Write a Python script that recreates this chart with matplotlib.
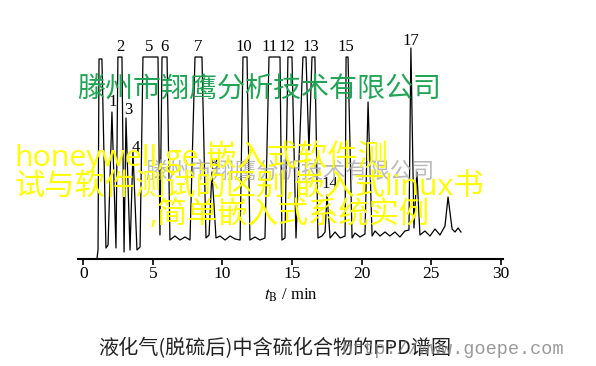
import matplotlib
matplotlib.use("Agg")
import matplotlib.pyplot as plt

plt.rcParams['mathtext.fontset'] = 'stix'

# trace vertices: retention time (min), signal height (arb.)
trace_time = [0.98, 1.06, 1.13, 1.34, 1.63, 1.78, 2.06, 2.35, 2.49, 2.78,
              2.93, 3.07, 3.36, 3.57, 3.86, 4.08, 4.29, 5.37, 5.51, 5.66,
              6.02, 6.23, 6.59, 6.95, 7.31, 7.67, 8.03, 8.53, 8.82, 9.04,
              9.25, 9.54, 9.83, 10.19, 10.55, 10.91, 11.27, 11.48, 11.77, 11.98,
              12.34, 12.70, 13.06, 13.35, 14.14, 14.28, 14.50, 14.71, 15.00, 15.29,
              15.79, 16.01, 16.22, 16.44, 16.65, 16.87, 17.16, 17.38, 17.52, 17.74,
              18.10, 18.46, 18.82, 18.89, 19.03, 19.32, 19.53, 19.89, 20.25, 20.47,
              20.76, 20.97, 21.33, 21.69, 22.04, 22.40, 22.76, 23.12, 23.41, 23.55,
              23.77, 23.98, 24.20, 24.56, 24.92, 25.28, 25.64, 26.00, 26.22, 26.51,
              26.72, 26.94, 27.15]
trace_signal = [0, 9, 200, 200, 11, 14, 147, 11, 202, 202,
                7, 141, 9, 107, 9, 12, 202, 202, 24, 202,
                202, 19, 23, 19, 22, 19, 202, 202, 21, 24,
                87, 21, 23, 19, 23, 20, 19, 202, 202, 19,
                22, 19, 21, 202, 202, 19, 21, 202, 202, 21,
                202, 202, 109, 202, 202, 21, 23, 27, 64, 21,
                27, 21, 23, 202, 202, 21, 26, 22, 25, 157,
                23, 28, 23, 27, 23, 27, 22, 28, 29, 211,
                31, 87, 24, 28, 23, 30, 24, 33, 62, 30,
                27, 31, 27]

# peak numbers and where they are printed
peak_names = ["1", "2", "3", "4", "5", "6", "7", "8", "10", "11", "12", "13", "14", "15", "17"]
peak_times = [2.13, 2.64, 3.21, 3.79, 4.72, 5.80, 8.25, 9.33, 11.55, 13.40, 14.64, 16.37, 17.74, 18.89, 23.56]
peak_label_y = [157, 212, 149, 111, 212, 212, 212, 94, 212, 212, 212, 212, 75, 212, 218]

xticks = [0, 5, 10, 15, 20, 25, 30]

caption = "液化气(脱硫后)中含硫化合物的FPD谱图"
green_mark = "滕州市翔鹰分析技术有限公司"
yellow_lines = ["honeywell,ge,嵌入式软件测",
                "试与软件测试的区别,嵌入式linux书",
                ",简单嵌入式系统实例"]

fig = plt.figure(figsize=(5.96, 3.66), dpi=100)
ax = fig.add_axes([78 / 596, 107 / 366, 425 / 596, 222 / 366])

ax.plot(trace_time, trace_signal, color='black', linewidth=0.9)

for name, t, y in zip(peak_names, peak_times, peak_label_y):
    ax.text(t, y, name, ha='center', va='center', fontsize=12,
            family='Liberation Serif', color='black')

ax.set_xlim(-0.38, 30.17)
ax.set_ylim(0, 222)
ax.set_xticks(xticks)
ax.set_xticklabels([str(v) for v in xticks], family='Liberation Serif', fontsize=12.5)
ax.set_yticks([])
for side in ['left', 'right', 'top']:
    ax.spines[side].set_visible(False)
ax.spines['bottom'].set_linewidth(1.5)
ax.tick_params(axis='x', direction='out', length=4, width=1.2, pad=1)
ax.set_xlabel(r"$t_{\mathrm{B}}$ / min", family='Liberation Serif', fontsize=12, labelpad=3)
ax.patch.set_alpha(0)

cjk = ['Noto Sans CJK SC', 'DejaVu Sans']
latin_first = ['Open Sans', 'Noto Sans CJK SC']

# caption and site mark
fig.text(275 / 596, 1 - 349 / 366, caption, ha='center', va='center',
         fontsize=14.5, family=cjk, color='#222222')
fig.text(341 / 596, 1 - 350 / 366, "http://www.goepe.com", ha='left', va='center',
         fontsize=13.3, family='Liberation Mono', color='#808080', alpha=0.8)

# watermarks
fig.text(145 / 596, 1 - 171 / 366, green_mark, ha='left', va='center',
         fontsize=16, family=cjk, color='#a8a8a8', alpha=0.8)
fig.text(77 / 596, 1 - 90 / 366, green_mark, ha='left', va='center',
         fontsize=20.2, family=cjk, color='#22a456')
line_x = [14, 14, 150]
line_y = [157, 187, 215]
for txt, lx, ly in zip(yellow_lines, line_x, line_y):
    fig.text(lx / 596, 1 - ly / 366, txt, ha='left', va='center',
             fontsize=21.8, family=latin_first, color='#ffff00')

fig.savefig("out.png", dpi=100)
